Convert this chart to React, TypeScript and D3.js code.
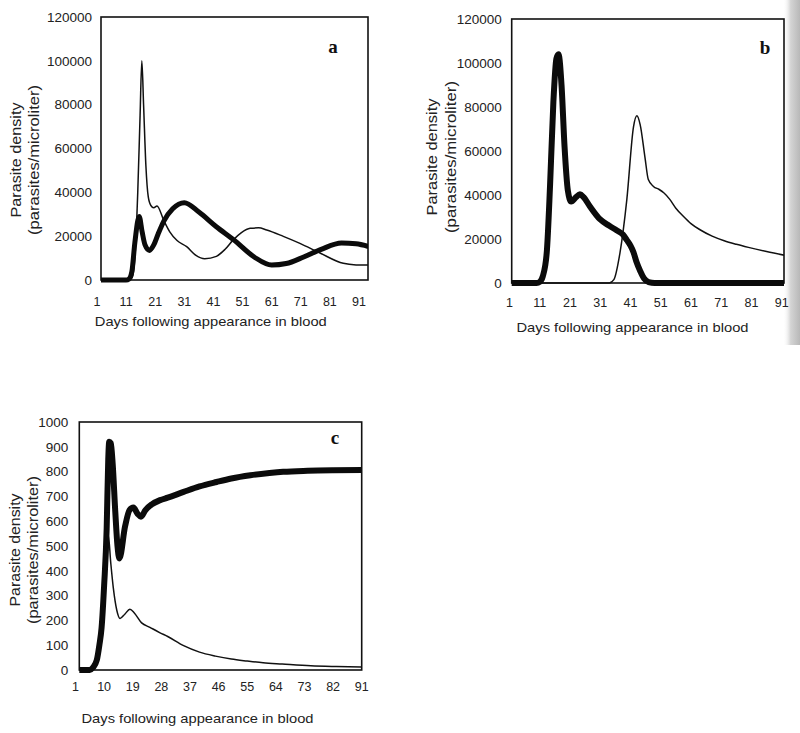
import React from 'react';
import * as d3 from 'd3';

const SANS = "'Liberation Sans', Arial, Helvetica, sans-serif";
const SERIF = "'Liberation Serif', 'Times New Roman', serif";

// ---------- Panel a ----------
const daysThinA = [1, 11, 12, 13, 14, 15, 15.8, 16.4, 17, 17.8, 18.6, 19.5, 20.5, 21.6, 24, 26, 28.5, 31.8, 35, 38, 42, 45, 47.8, 50.5, 53.6, 56.5, 59.3, 65, 70.7, 77.6, 85.6, 90, 94.2];
const thinA = [0, 0, 300, 1000, 10000, 40000, 75000, 100000, 80000, 52000, 38000, 34000, 33000, 33800, 27000, 22000, 18000, 15200, 11200, 9700, 10800, 14000, 18300, 21500, 23600, 23800, 22800, 19900, 16700, 12300, 7600, 6900, 6800];
const daysThickA = [1, 11, 12, 13, 14, 15.5, 16.5, 17.5, 19, 20.5, 22, 24, 27, 31, 36, 42, 48, 55, 61, 66, 72, 78, 85, 90, 94.2];
const thickA = [0, 0, 500, 4000, 17000, 29000, 22000, 16000, 13500, 16000, 21000, 27000, 32500, 35300, 31000, 24300, 18300, 10500, 6800, 7500, 10500, 14000, 16900, 16500, 15300];

// ---------- Panel b ----------
const daysThickB = [1, 10, 11, 12, 13.3, 14.4, 15.5, 16.5, 17.2, 18.2, 19.2, 20.3, 21.4, 23, 24.3, 25.5, 27.6, 30.9, 34, 36.4, 38.5, 39.8, 41, 42, 43, 44.2, 45.5, 47, 49, 92];
const thickB = [0, 0, 500, 3000, 13600, 44000, 82000, 102000, 104000, 90000, 62000, 42000, 37000, 39000, 40300, 39000, 34800, 29000, 26000, 24000, 22000, 19500, 17000, 14000, 9500, 5500, 2000, 400, 0, 0];
const daysThinB = [1, 34, 35.5, 37.5, 39.8, 42, 43.1, 44.2, 45.8, 46.9, 48.6, 50.5, 52, 54, 56, 58.5, 61, 64, 68, 72, 76, 80, 86, 92];
const thinB = [0, 0, 1500, 13500, 38000, 71000, 76000, 72000, 57000, 47000, 43900, 42500, 41000, 38000, 34000, 30300, 27000, 24200, 21300, 19200, 17600, 16200, 14300, 12600];

// ---------- Panel c ----------
const daysThickC = [1, 5.5, 6.5, 7.7, 8.5, 9.2, 10, 10.8, 11.3, 11.6, 12.1, 12.7, 13.5, 14.2, 14.8, 16.6, 18, 19.2, 20.5, 21.6, 23, 25, 27.6, 30, 35, 40, 45.4, 50, 56, 62, 66.3, 74, 82, 91];
const thickC = [0, 0, 10, 40, 100, 170, 340, 570, 850, 920, 915, 830, 640, 500, 450, 580, 645, 655, 630, 618, 645, 668, 685, 695, 718, 740, 758, 772, 785, 794, 799, 803, 805, 806];
const daysThinC = [1, 6, 7.5, 8.5, 9.5, 10.3, 11.3, 12.1, 12.9, 14, 15, 16.5, 18.1, 19.5, 21.8, 24.4, 27.6, 30, 35, 40, 45, 50, 55, 60, 66, 75, 83, 91];
const thinC = [0, 0, 20, 70, 180, 350, 544, 430, 330, 240, 208, 225, 245, 230, 190, 172, 150, 135, 98, 72, 56, 44, 36, 29, 24, 17, 14, 12];

// ---------- Ticks & text ----------
const yTicksAB = [0, 20000, 40000, 60000, 80000, 100000, 120000];
const xTicksAB = [1, 11, 21, 31, 41, 51, 61, 71, 81, 91];
const yTicksC = [0, 100, 200, 300, 400, 500, 600, 700, 800, 900, 1000];
const xTicksC = [1, 10, 19, 28, 37, 46, 55, 64, 73, 82, 91];
const yTitleMain = 'Parasite density';
const yTitleSub = '(parasites/microliter)';
const xTitle = 'Days following appearance in blood';

type Layout = {
  left: number; right: number; top: number; bottom: number;
  x1: number; x91: number;
  yLabelX: number; xLabelY: number;
  xTitleX: number; xTitleY: number;
  yT1X: number; yT2X: number; yTY: number; yT1Len: number; yT2Len: number;
  letterX: number; letterY: number;
  thickW: number;
};

type PanelProps = {
  L: Layout;
  xTicks: number[];
  yTicks: number[];
  yMax: number;
  thinDays: number[];
  thinVals: number[];
  thickDays: number[];
  thickVals: number[];
  letter: string;
};

function Panel({ L, xTicks, yTicks, yMax, thinDays, thinVals, thickDays, thickVals, letter }: PanelProps) {
  const x = d3.scaleLinear().domain([1, 91]).range([L.x1, L.x91]);
  const y = d3.scaleLinear().domain([0, yMax]).range([L.bottom, L.top]);
  const mk = (days: number[], vals: number[]) =>
    d3.line<number>()
      .x((_, i) => x(days[i]))
      .y((v) => y(v))
      .curve(d3.curveMonotoneX)(vals) || '';
  const clipId = `clip-${letter}`;
  return (
    <g>
      <defs>
        <clipPath id={clipId}>
          <rect x={L.left} y={L.top - 10} width={L.right - L.left} height={L.bottom - L.top + 20} />
        </clipPath>
      </defs>
      <rect x={L.left} y={L.top} width={L.right - L.left} height={L.bottom - L.top} fill="none" stroke="#111" strokeWidth={1.6} />
      <g clipPath={`url(#${clipId})`}>
        <path d={mk(thinDays, thinVals)} fill="none" stroke="#111" strokeWidth={1.5} strokeLinejoin="round" />
        <path d={mk(thickDays, thickVals)} fill="none" stroke="#0b0b0b" strokeWidth={L.thickW} strokeLinejoin="round" />
      </g>
      {yTicks.map((t) => (
        <text key={`y${t}`} x={L.yLabelX} y={y(t)} dy="0.35em" textAnchor="end" fontFamily={SANS} fontSize={13.5} fill="#222">
          {t}
        </text>
      ))}
      {xTicks.map((t) => (
        <text key={`x${t}`} x={x(t)} y={L.xLabelY} dy="0.35em" textAnchor="middle" fontFamily={SANS} fontSize={12.5} fill="#222">
          {t}
        </text>
      ))}
      <text x={L.xTitleX} y={L.xTitleY} dy="0.35em" textAnchor="middle" fontFamily={SANS} fontSize={13.5} fill="#222"
        textLength={232} lengthAdjust="spacingAndGlyphs">
        {xTitle}
      </text>
      <text transform={`translate(${L.yT1X},${L.yTY}) rotate(-90)`} dy="0.35em" textAnchor="middle" fontFamily={SANS} fontSize={14} fill="#222"
        textLength={L.yT1Len} lengthAdjust="spacingAndGlyphs">
        {yTitleMain}
      </text>
      <text transform={`translate(${L.yT2X},${L.yTY}) rotate(-90)`} dy="0.35em" textAnchor="middle" fontFamily={SANS} fontSize={14} fill="#222"
        textLength={L.yT2Len} lengthAdjust="spacingAndGlyphs">
        {yTitleSub}
      </text>
      <text x={L.letterX} y={L.letterY} dy="0.35em" textAnchor="middle" fontFamily={SERIF} fontWeight="bold" fontSize={19} fill="#111">
        {letter}
      </text>
    </g>
  );
}

const layoutA: Layout = {
  left: 101, right: 368, top: 17, bottom: 280, x1: 97, x91: 359,
  yLabelX: 92, xLabelY: 301.7, xTitleX: 210.8, xTitleY: 321.7,
  yT1X: 16.5, yT2X: 34, yTY: 160, yT1Len: 115, yT2Len: 150,
  letterX: 333, letterY: 46, thickW: 5,
};
const layoutB: Layout = {
  left: 511.7, right: 784, top: 19, bottom: 283, x1: 509.5, x91: 781.7,
  yLabelX: 501.7, xLabelY: 302.7, xTitleX: 632.5, xTitleY: 327,
  yT1X: 432.5, yT2X: 450.7, yTY: 157, yT1Len: 117, yT2Len: 152,
  letterX: 765, letterY: 47, thickW: 6,
};
const layoutC: Layout = {
  left: 79.3, right: 361.7, top: 422, bottom: 670, x1: 75.5, x91: 361.7,
  yLabelX: 68.3, xLabelY: 686.7, xTitleX: 197.5, xTitleY: 718.3,
  yT1X: 15, yT2X: 33, yTY: 550, yT1Len: 113, yT2Len: 148,
  letterX: 335, letterY: 437, thickW: 6,
};

export default function App() {
  return (
    <svg width={800} height={733} viewBox="0 0 800 733" style={{ position: 'absolute', left: 0, top: 0, background: '#fff' }}>
      <defs>
        <linearGradient id="scanEdge" x1="0" x2="1" y1="0" y2="0">
          <stop offset="0" stopColor="#ffffff" stopOpacity={0} />
          <stop offset="0.45" stopColor="#d4d4d4" stopOpacity={1} />
          <stop offset="1" stopColor="#b8b8b8" stopOpacity={1} />
        </linearGradient>
      </defs>
      <rect x={0} y={0} width={800} height={733} fill="#fff" />
      <rect x={783} y={0} width={17} height={345} fill="url(#scanEdge)" />
      <Panel L={layoutA} xTicks={xTicksAB} yTicks={yTicksAB} yMax={120000}
        thinDays={daysThinA} thinVals={thinA} thickDays={daysThickA} thickVals={thickA} letter="a" />
      <Panel L={layoutB} xTicks={xTicksAB} yTicks={yTicksAB} yMax={120000}
        thinDays={daysThinB} thinVals={thinB} thickDays={daysThickB} thickVals={thickB} letter="b" />
      <Panel L={layoutC} xTicks={xTicksC} yTicks={yTicksC} yMax={1000}
        thinDays={daysThinC} thinVals={thinC} thickDays={daysThickC} thickVals={thickC} letter="c" />
    </svg>
  );
}
